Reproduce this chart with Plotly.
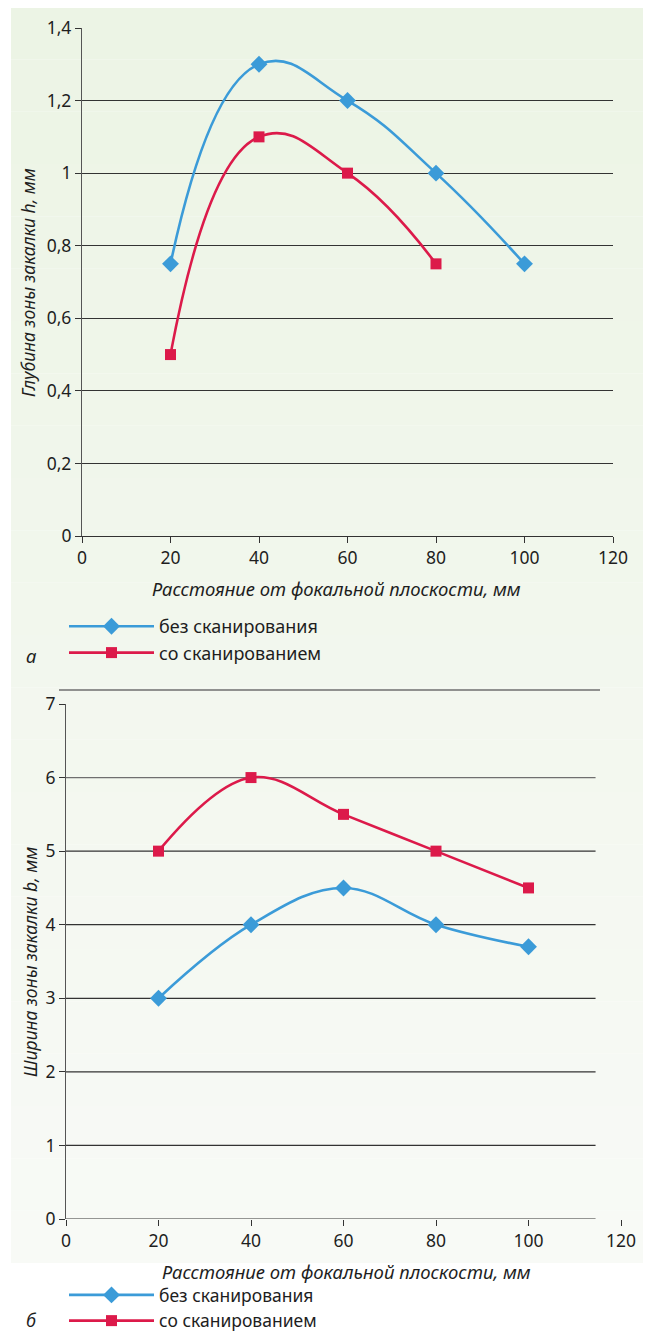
import plotly.graph_objects as go

# ---- data ----
x_top_no_scan = [20, 40, 60, 80, 100]
h_no_scan = [0.75, 1.3, 1.2, 1.0, 0.75]
x_top_scan = [20, 40, 60, 80]
h_scan = [0.5, 1.1, 1.0, 0.75]

x_bot = [20, 40, 60, 80, 100]
b_no_scan = [3.0, 4.0, 4.5, 4.0, 3.7]
b_scan = [5.0, 6.0, 5.5, 5.0, 4.5]

x_ticks = [0, 20, 40, 60, 80, 100, 120]
y_ticks_top = [0, 0.2, 0.4, 0.6, 0.8, 1.0, 1.2, 1.4]
y_ticks_bot = [0, 1, 2, 3, 4, 5, 6, 7]

series_names = ["без сканирования", "со сканированием"]
x_title = "Расстояние от фокальной плоскости, мм"
y_title_top = "Глубина зоны закалки h, мм"
y_title_bot = "Ширина зоны закалки b, мм"

# ---- style / layout helpers ----
OFF = 8                       # default page (body) margin
W, H = 651 - 2 * OFF, 1341 - 2 * OFF
BLUE = "#3b9bd8"
RED = "#dc1a4a"
TXT = "#1e1e1e"
GRID = "#333333"
FONT = "Noto Sans"

def fx(r):   # page pixel -> figure pixel
    return min(max(r - OFF, 0), W)

def fy(r):
    return min(max(r - OFF, 0), H)

def px_x(r):
    return fx(r) / W

def px_y(r):
    return 1 - fy(r) / H

fig = go.Figure()

# background panel (soft vertical gradient in bands)
top_c = (236, 244, 229)
bot_c = (248, 250, 246)
y0, y1 = 7, 1263
n = 24
for i in range(n):
    t = i / (n - 1)
    c = tuple(int(round(top_c[k] + (bot_c[k] - top_c[k]) * t)) for k in range(3))
    fig.add_shape(type="rect", xref="paper", yref="paper",
                  x0=px_x(11), x1=px_x(644),
                  y0=px_y(y0 + (y1 - y0) * (i + 1) / n), y1=px_y(y0 + (y1 - y0) * i / n),
                  fillcolor="rgb(%d,%d,%d)" % c, line_width=0, layer="below")

line_w = 2.6
fig.add_trace(go.Scatter(x=x_top_no_scan, y=h_no_scan, name=series_names[0],
                         mode="lines+markers", line=dict(color=BLUE, width=line_w, shape="spline", smoothing=1.3),
                         marker=dict(symbol="diamond", size=13, color=BLUE),
                         xaxis="x", yaxis="y", legend="legend"))
fig.add_trace(go.Scatter(x=x_top_scan, y=h_scan, name=series_names[1],
                         mode="lines+markers", line=dict(color=RED, width=line_w, shape="spline", smoothing=1.3),
                         marker=dict(symbol="square", size=11, color=RED),
                         xaxis="x", yaxis="y", legend="legend"))
fig.add_trace(go.Scatter(x=x_bot, y=b_no_scan, name=series_names[0],
                         mode="lines+markers", line=dict(color=BLUE, width=line_w, shape="spline", smoothing=1.1),
                         marker=dict(symbol="diamond", size=13, color=BLUE),
                         xaxis="x2", yaxis="y2", legend="legend2"))
fig.add_trace(go.Scatter(x=x_bot, y=b_scan, name=series_names[1],
                         mode="lines+markers", line=dict(color=RED, width=line_w, shape="spline", smoothing=1.1),
                         marker=dict(symbol="square", size=11, color=RED),
                         xaxis="x2", yaxis="y2", legend="legend2"))

# bottom chart gridlines stop short of the right edge
for v in y_ticks_bot[:-1]:
    fig.add_shape(type="line", xref="x2", yref="y2", x0=0, x1=114.5, y0=v, y1=v,
                  line=dict(color=GRID if v < 6 else "#6f6f6f", width=1.2), layer="below")
# the topmost rule of the lower chart sits a little above its label
fig.add_shape(type="line", xref="paper", yref="paper", x0=px_x(59), x1=px_x(600),
              y0=px_y(690), y1=px_y(690), line=dict(color="#6f6f6f", width=1.4), layer="below")

tickfont = dict(family=FONT, size=17.5, color=TXT)
common_x = dict(range=[0, 120], tickvals=x_ticks, ticks="outside", ticklen=6, tickwidth=1,
                tickcolor=GRID, tickfont=tickfont, zeroline=False, fixedrange=True, automargin=False)
common_y = dict(ticks="outside", ticklen=6, tickwidth=1, tickcolor=GRID, tickfont=tickfont,
                zeroline=False, fixedrange=True, showline=True, linecolor="#555555", linewidth=1.2,
                automargin=False)

legfont = dict(family=FONT, size=18, color=TXT)
legfont2 = dict(family=FONT, size=17.5, color=TXT)
fig.update_layout(
    width=W, height=H,
    margin=dict(l=0, r=0, t=0, b=0, pad=0, autoexpand=False),
    paper_bgcolor="white", plot_bgcolor="rgba(0,0,0,0)",
    separators=", ",
    font=dict(family=FONT, size=16, color=TXT),
    xaxis=dict(domain=[px_x(82), px_x(613)], anchor="y", showgrid=False,
               showline=True, linecolor=GRID, linewidth=1.2, **common_x),
    yaxis=dict(domain=[px_y(536), px_y(28)], anchor="x", range=[0, 1.4], tickvals=y_ticks_top,
               showgrid=True, gridcolor=GRID, gridwidth=1.2, **common_y),
    xaxis2=dict(domain=[px_x(66), px_x(621)], anchor="y2", showgrid=False, showline=False, **common_x),
    yaxis2=dict(domain=[px_y(1219), px_y(704)], anchor="x2", range=[0, 7], tickvals=y_ticks_bot,
                showgrid=False, **common_y),
    legend=dict(x=px_x(64), y=px_y(608), xanchor="left", yanchor="top", bgcolor="rgba(0,0,0,0)",
                itemwidth=85, font=legfont, tracegroupgap=0),
    legend2=dict(x=px_x(64), y=px_y(1277), xanchor="left", yanchor="top", bgcolor="rgba(0,0,0,0)",
                 itemwidth=85, font=legfont2, tracegroupgap=0),
    showlegend=True,
)

ital = dict(family=FONT, size=18.5, color=TXT, style="italic")
def ann(text, x, y, font, angle=0):
    fig.add_annotation(text=text, xref="paper", yref="paper", x=px_x(x), y=px_y(y),
                       xanchor="center", yanchor="middle", showarrow=False, font=font,
                       textangle=angle)

ann(x_title, 336, 588, ital)
ann(y_title_top, 28, 283, dict(ital, size=17.5), -90)
ann(x_title, 346, 1271, ital)
ann(y_title_bot, 30, 962, dict(ital, size=17.5), -90)
ann("а", 31, 655, dict(ital, size=18.5))
ann("б", 31, 1320, dict(ital, size=18))

fig.write_html("out.html")
